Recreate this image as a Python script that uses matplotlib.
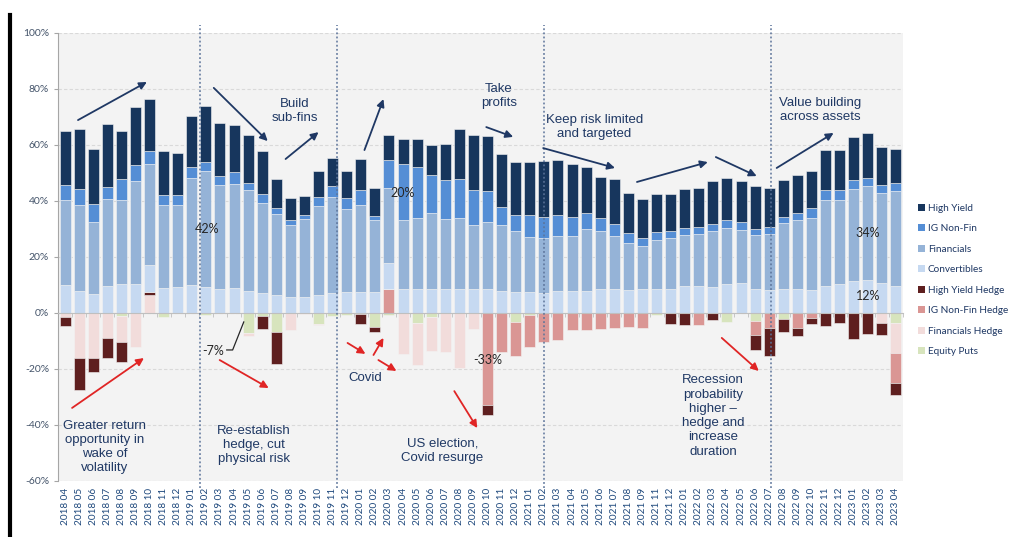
import numpy as np
import matplotlib.pyplot as plt
from matplotlib.patches import Patch
from matplotlib.lines import Line2D

plt.rcParams['font.family'] = ['Lato', 'DejaVu Sans']

# ---------------- data (% of portfolio) ----------------
months = [
    '2018 04', '2018 05', '2018 06', '2018 07', '2018 08', '2018 09', '2018 10', '2018 11', '2018 12',
    '2019 01', '2019 02', '2019 03', '2019 04', '2019 05', '2019 06', '2019 07', '2019 08', '2019 09',
    '2019 10', '2019 11', '2019 12',
    '2020 01', '2020 02', '2020 03', '2020 04', '2020 05', '2020 06', '2020 07', '2020 08', '2020 09',
    '2020 10', '2020 11', '2020 12',
    '2021 01', '2021 02', '2021 03', '2021 04', '2021 05', '2021 06', '2021 07', '2021 08', '2021 09',
    '2021 11', '2021 12',
    '2022 01', '2022 02', '2022 03', '2022 04', '2022 05', '2022 06', '2022 07', '2022 08', '2022 09',
    '2022 10', '2022 11', '2022 12',
    '2023 01', '2023 02', '2023 03', '2023 04',
]

convertibles = [9.9, 7.7, 6.7, 9.5, 10.5, 10.2, 9.6, 9.0, 9.3, 9.9,
                9.3, 8.6, 8.8, 7.7, 7.1, 6.3, 5.7, 5.8, 6.3, 7.1,
                7.6, 7.6, 7.6, 9.1, 8.7, 8.7, 8.7, 8.7, 8.7, 8.5,
                8.5, 7.9, 7.5, 7.5, 7.3, 7.9, 7.9, 7.9, 8.5, 8.5,
                8.2, 8.7, 8.7, 8.7, 9.8, 9.6, 9.4, 10.4, 10.6, 8.5,
                8.2, 8.5, 8.5, 8.2, 9.6, 10.2, 11.4, 11.9, 10.7, 9.5]
financials = [30.3, 30.8, 25.8, 31.3, 30.0, 36.8, 36.3, 29.5, 29.4, 38.3,
              41.3, 37.2, 37.3, 36.3, 32.1, 29.2, 25.8, 27.7, 31.8, 34.3,
              29.5, 31.0, 25.6, 26.8, 24.5, 25.3, 26.9, 24.8, 25.3, 23.0,
              23.9, 23.6, 21.7, 19.5, 19.6, 19.5, 19.5, 22.2, 20.9, 18.9,
              16.8, 15.2, 17.4, 18.0, 17.9, 18.5, 19.9, 20.0, 18.9, 19.2,
              19.9, 23.6, 24.8, 25.7, 30.8, 30.0, 32.9, 33.6, 32.2, 34.0]
ig_non_fin = [5.4, 5.9, 6.3, 4.2, 7.2, 6.0, 4.7, 3.5, 3.6, 3.8,
              3.4, 3.2, 4.4, 2.4, 3.2, 1.9, 1.6, 1.4, 3.3, 4.0,
              4.1, 5.2, 1.6, 10.1, 19.9, 18.3, 13.7, 14.0, 14.0, 12.5,
              11.2, 6.5, 5.8, 8.0, 7.5, 7.6, 7.0, 5.7, 4.4, 4.4,
              3.5, 2.8, 2.7, 2.6, 2.8, 2.7, 2.6, 2.8, 2.9, 2.4,
              2.7, 2.1, 2.3, 3.5, 3.6, 3.6, 3.2, 2.7, 2.7, 2.9]
high_yield = [19.3, 21.2, 19.8, 22.4, 17.3, 20.5, 18.4, 15.7, 15.0, 18.4,
              20.0, 19.0, 16.5, 17.1, 15.3, 10.6, 8.1, 6.9, 9.4, 10.0,
              9.6, 11.1, 10.0, 8.9, 9.2, 9.8, 10.6, 13.0, 17.6, 19.7,
              19.7, 18.9, 18.8, 18.8, 19.9, 19.5, 18.9, 16.3, 14.8, 15.9,
              14.4, 14.0, 13.6, 13.2, 13.7, 14.0, 15.1, 15.1, 14.9, 15.1,
              14.0, 13.3, 13.6, 13.3, 14.1, 14.5, 15.5, 16.1, 13.6, 12.2]

equity_puts = [0, 0, 0, 0, -1.0, 0, 0, -1.5, 0, 0,
               -0.8, 0, 0, -7.0, -1.2, -6.7, 0, 0, -3.9, -1.0,
               -0.6, -0.3, -4.9, -0.6, 0, -3.5, -1.3, 0, 0, 0,
               0, 0, -3.3, -0.8, 0, 0, 0, 0, 0, 0,
               0, 0, -0.6, 0, 0, 0, 0, -3.1, 0, -2.9,
               0, -2.3, 0, 0, 0, 0, 0, 0, 0, -3.5]
financials_hedge = [-1.5, -16.0, -16.2, -8.8, -9.2, -12.2, 6.4, 0, 0, 0,
                    0, 0, 0, -1.1, 0, 0, -5.9, -0.5, -0.3, 0,
                    0, 0, 0, 0, -14.8, -14.9, -12.3, -14.1, -19.7, -5.6,
                    0, 0, 0, 0, 0, 0, 0, 0, 0, 0,
                    0, 0, 0, 0, 0, 0, 0, 0, 0, 0,
                    0, 0, 0, 0, 0, 0, 0, 0, -3.6, -10.8]
ig_non_fin_hedge = [0, 0, 0, 0, 0, 0, 0, 0, 0, 0,
                    0, 0, 0, 0, 0, 0, 0, 0, 0, 0,
                    0, 0, 0, 8.6, 0, 0, 0, 0, 0, 0,
                    -33.0, -14.1, -12.0, -11.2, -10.2, -9.8, -6.0, -5.9, -5.6, -5.4,
                    -5.1, -5.4, 0, 0, 0, -4.3, 0, 0, 0, -5.0,
                    -5.5, 0, -5.4, -1.7, 0, 0, 0, 0, 0, -10.7]
high_yield_hedge = [-3.3, -11.4, -4.9, -7.1, -7.2, 0, 1.0, 0, 0, 0,
                    0, 0, 0, 0, -4.6, -11.4, 0, 0, 0, 0,
                    0, -3.7, -1.9, 0, 0, 0, 0, 0, 0, 0,
                    -3.3, 0, 0, 0, 0, 0, 0, 0, 0, 0,
                    0, 0, 0, -3.9, -4.3, 0, -2.6, 0, 0, -5.4,
                    -9.7, -4.4, -2.8, -2.1, -4.7, -3.7, -9.4, -7.5, -4.1, -4.2]

# stacking order (same for positive and negative parts, as in the source)
series = [
    ('Equity Puts', equity_puts, '#D7E4BD'),
    ('Financials Hedge', financials_hedge, '#F2DCDB'),
    ('IG Non-Fin Hedge', ig_non_fin_hedge, '#DA9694'),
    ('High Yield Hedge', high_yield_hedge, '#5E1F1F'),
    ('Convertibles', convertibles, '#C6D9F1'),
    ('Financials', financials, '#95B3D7'),
    ('IG Non-Fin', ig_non_fin, '#558ED5'),
    ('High Yield', high_yield, '#17365D'),
]
legend_order = ['High Yield', 'IG Non-Fin', 'Financials', 'Convertibles',
                'High Yield Hedge', 'IG Non-Fin Hedge', 'Financials Hedge', 'Equity Puts']

regime_breaks = [9.55, 19.3, 34.0, 50.1]

navy = '#1F3864'
red = '#E02525'

# ---------------- figure ----------------
W, H = 1009, 537
fig = plt.figure(figsize=(W / 100, H / 100), dpi=100)
ax = fig.add_axes([58 / W, 1 - 481 / H, (903 - 58) / W, (481 - 33) / H])
ax.set_facecolor('#F3F3F3')

x = np.arange(len(months))
pos_bottom = np.zeros(len(months))
neg_bottom = np.zeros(len(months))
colors = {}
for name, vals, col in series:
    v = np.array(vals, dtype=float)
    bottom = np.where(v >= 0, pos_bottom, neg_bottom)
    ax.bar(x, v, bottom=bottom, width=0.78, color=col, edgecolor='#F3F3F3',
           linewidth=0.4, zorder=3)
    pos_bottom = pos_bottom + np.clip(v, 0, None)
    neg_bottom = neg_bottom + np.clip(v, None, 0)
    colors[name] = col

ax.set_xlim(-0.45, len(months) - 0.55)
ax.set_ylim(-60, 100)
ax.set_yticks(np.arange(-60, 101, 20))
ax.set_yticklabels([f'{t}%' for t in range(-60, 101, 20)])
ax.tick_params(axis='y', colors='#A6A6A6', labelcolor='#44546A', labelsize=7.5, length=3)
ax.grid(axis='y', color='#D9D9D9', linestyle=(0, (3, 2)), linewidth=0.8, zorder=0)

for side in ['top', 'right']:
    ax.spines[side].set_visible(False)
ax.spines['left'].set_color('#A6A6A6')
ax.spines['bottom'].set_position(('data', 0))
ax.spines['bottom'].set_color('#BFBFBF')
ax.spines['bottom'].set_zorder(4)
ax.set_xticks(x)
ax.set_xticks(np.arange(-0.5, len(months), 1), minor=True)
ax.tick_params(axis='x', which='major', length=0, labelbottom=False)
ax.tick_params(axis='x', which='minor', length=3, color='#BFBFBF', direction='out')

sec = ax.secondary_xaxis('bottom')
sec.set_xticks(x, labels=months)
sec.tick_params(length=0, labelrotation=90, labelsize=7.2, labelcolor='#1F497D', pad=5)
sec.spines['bottom'].set_visible(False)

for xb in regime_breaks:
    ax.plot([xb, xb], [-62.5, 103], color='#5B7399', linestyle=(0, (1.2, 1.5)),
            linewidth=1.1, clip_on=False, zorder=5)

# ---------------- annotations ----------------
ann_font = dict(family=['Liberation Sans', 'DejaVu Sans'], fontsize=9.5, color=navy,
                ha='center', va='center', linespacing=1.25, zorder=6)
ax.text(16.3, 72.1, 'Build\nsub-fins', **ann_font)
ax.text(30.8, 77.5, 'Take\nprofits', **ann_font)
ax.text(37.6, 66.4, 'Keep risk limited\nand targeted', **ann_font)
ax.text(53.6, 72.5, 'Value building\nacross assets', **ann_font)
ax.text(21.3, -23.2, 'Covid', **ann_font)
ax.text(26.8, -49.3, 'US election,\nCovid resurge', **ann_font)
ax.text(2.8, -47.9, 'Greater return\nopportunity in\nwake of\nvolatility', **ann_font)
ax.text(13.4, -47.1, 'Re-establish\nhedge, cut\nphysical risk', **ann_font)
ax.text(46.0, -36.8, 'Recession\nprobability\nhigher \u2013\nhedge and\nincrease\nduration', **ann_font)

num_font = dict(fontsize=9, color='#262626', ha='center', va='center', zorder=6)
ax.text(10.06, 30.0, '42%', **num_font)
ax.text(24.0, 42.9, '20%', **num_font)
ax.text(57.0, 28.6, '34%', **num_font)
ax.text(57.0, 6.1, '12%', **num_font)
ax.text(30.0, -16.8, '-33%', **num_font)
ax.text(10.5, -13.6, '-7%', **num_font)
ax.plot([11.48, 11.9, 12.69], [-13.2, -13.2, -3.2], color='#262626', linewidth=0.9, zorder=6)

navy_arrows = [
    ((0.92, 68.9), (5.81, 82.5)),
    ((10.56, 80.4), (14.39, 61.4)),
    ((15.66, 55.0), (18.0, 64.6)),
    ((21.26, 58.2), (22.61, 76.4)),
    ((29.91, 66.4), (31.82, 62.9)),
    ((33.95, 58.9), (39.05, 51.8)),
    ((40.61, 46.8), (45.64, 53.9)),
    ((46.21, 55.7), (49.11, 48.9)),
    ((50.53, 51.8), (54.57, 64.3)),
]
red_arrows = [
    ((0.5, -33.9), (5.6, -16.1)),
    ((10.98, -16.8), (14.46, -26.8)),
    ((20.06, -10.7), (21.33, -14.6)),
    ((21.9, -15.0), (22.61, -8.9)),
    ((22.25, -16.8), (23.53, -20.7)),
    ((27.64, -27.9), (29.27, -41.1)),
    ((46.63, -8.9), (49.26, -20.7)),
]
for arrows, col in [(navy_arrows, navy), (red_arrows, red)]:
    for start, end in arrows:
        ax.annotate('', xy=end, xytext=start, zorder=7,
                    arrowprops=dict(arrowstyle='-|>', color=col, lw=1.3,
                                    mutation_scale=11, shrinkA=0, shrinkB=0))

# ---------------- legend ----------------
handles = [Patch(facecolor=colors[n], edgecolor='none') for n in legend_order]
leg = fig.legend(handles, legend_order, loc='center left',
                 bbox_to_anchor=(918 / W, 1 - 280 / H), frameon=False,
                 fontsize=7.2, handlelength=0.65, handleheight=0.65,
                 handletextpad=0.35, labelspacing=1.15, borderaxespad=0, borderpad=0)
for t in leg.get_texts():
    t.set_color('#1F3864')

# black side rule at the left edge
fig.add_artist(Line2D([10 / W, 10 / W], [1 - 535 / H, 1 - 15 / H],
                      color='black', linewidth=3, transform=fig.transFigure))

fig.savefig('out.png', dpi=100)
